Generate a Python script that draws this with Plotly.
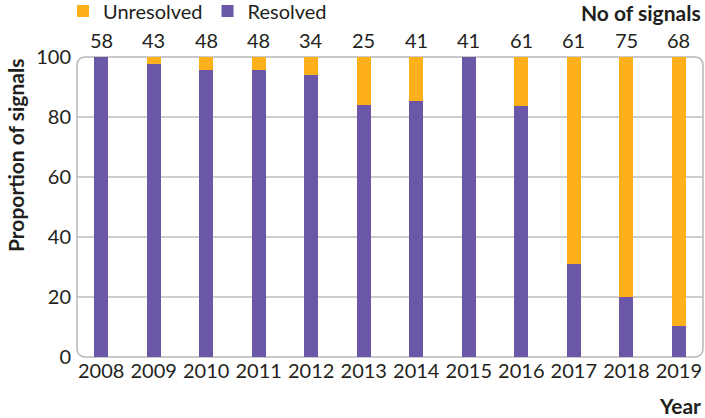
import plotly.graph_objects as go

years = ["2008", "2009", "2010", "2011", "2012", "2013", "2014", "2015", "2016", "2017", "2018", "2019"]
n_signals = [58, 43, 48, 48, 34, 25, 41, 41, 61, 61, 75, 68]
resolved_pct = [100, 97.7, 95.8, 95.8, 94.1, 84.0, 85.4, 100, 83.6, 31.1, 20.0, 10.3]
unresolved_pct = [0, 2.3, 4.2, 4.2, 5.9, 16.0, 14.6, 0, 16.4, 68.9, 80.0, 89.7]
y_ticks = [0, 20, 40, 60, 80, 100]
grid_vals = [20, 40, 60, 80]

PURPLE = "#6A57A7"
ORANGE = "#FDB019"
GRID = "#BDBDBD"
TXT = "#231F20"
FONT = "Lato"

W, H = 705, 418
ML, MR, MT, MB = 77, 2, 57, 61
PW, PH = W - ML - MR, H - MT - MB


def py(pix):
    """pixel row from top of figure -> paper y"""
    return (H - MB - pix) / PH


fig = go.Figure()
fig.add_trace(go.Bar(x=years, y=resolved_pct, name="Resolved",
                     marker=dict(color=PURPLE, line=dict(width=0))))
fig.add_trace(go.Bar(x=years, y=unresolved_pct, name="Unresolved",
                     marker=dict(color=ORANGE, line=dict(width=0))))

shapes = []
for g in grid_vals:
    shapes.append(dict(type="line", xref="paper", yref="y", x0=0, x1=1, y0=g, y1=g,
                       line=dict(color=GRID, width=1.5), layer="below"))
rx, ry = 9 / PW, 9 / PH
path = (f"M {rx},0 L {1-rx},0 Q 1,0 1,{ry} L 1,{1-ry} Q 1,1 {1-rx},1 "
        f"L {rx},1 Q 0,1 0,{1-ry} L 0,{ry} Q 0,0 {rx},0 Z")
shapes.append(dict(type="path", xref="paper", yref="paper", path=path,
                   line=dict(color="#B8B8B8", width=1.5), layer="below"))

annotations = []
for i, n in enumerate(n_signals):
    annotations.append(dict(x=i, y=1, xref="x", yref="paper", text=str(n),
                            showarrow=False, yanchor="bottom", yshift=3,
                            font=dict(size=20, color=TXT, family=FONT)))
annotations.append(dict(x=1, y=py(12), xref="paper", yref="paper",
                        text="<b>No of signals</b>", showarrow=False,
                        xanchor="right", yanchor="middle",
                        font=dict(size=21, color=TXT, family=FONT)))
annotations.append(dict(x=1, y=py(405), xref="paper", yref="paper",
                        text="<b>Year</b>", showarrow=False,
                        xanchor="right", yanchor="middle",
                        font=dict(size=21, color=TXT, family=FONT)))
annotations.append(dict(x=(15 - ML) / PW, y=py(156), xref="paper", yref="paper",
                        text="<b>Proportion of signals</b>", showarrow=False, textangle=-90,
                        xanchor="center", yanchor="middle",
                        font=dict(size=21, color=TXT, family=FONT)))

fig.update_layout(
    width=W, height=H,
    margin=dict(l=ML, r=MR, t=MT, b=MB),
    barmode="stack", bargap=0.73,
    plot_bgcolor="white", paper_bgcolor="white",
    font=dict(family=FONT, size=20, color=TXT),
    showlegend=True,
    legend=dict(orientation="h", traceorder="reversed",
                xref="container", x=63 / W, xanchor="left",
                yref="container", y=1 - 11 / H, yanchor="middle",
                font=dict(size=20, color=TXT, family=FONT),
                bgcolor="rgba(0,0,0,0)"),
    shapes=shapes,
    annotations=annotations,
)
fig.update_xaxes(type="category", range=[-0.46, 11.46], showgrid=False, showline=False,
                 ticks="", tickfont=dict(size=20, color=TXT, family=FONT), zeroline=False)
fig.update_yaxes(range=[0, 100], tickvals=y_ticks, showgrid=False, showline=False, zeroline=False,
                 ticks="", ticklabelstandoff=5, tickfont=dict(size=20, color=TXT, family=FONT))

fig.write_html("out.html", config={"displayModeBar": False},
               post_script="document.body.style.margin='0';")
